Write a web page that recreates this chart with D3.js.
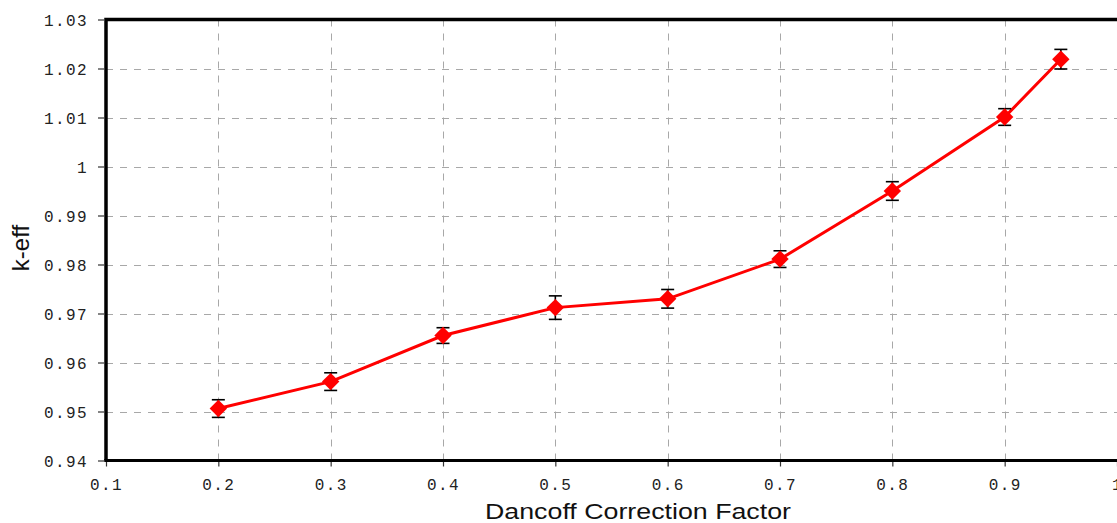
<!DOCTYPE html>
<html>
<head>
<meta charset="utf-8">
<script src="https://cdn.jsdelivr.net/npm/d3@7"></script>
<style>
  html, body { margin: 0; padding: 0; background: #fff; }
  svg { display: block; }
  .tick-label { font-family: "Liberation Mono", "DejaVu Sans Mono", monospace; font-size: 16px; fill: #222; letter-spacing: 1.4px; }
  .axis-title { font-family: "Liberation Sans", Arial, sans-serif; fill: #111; }
</style>
</head>
<body>
<svg id="chart" width="1117" height="523"></svg>
<script>
// Dancoff correction factor vs. k-eff, with statistical error bars
const dancoff = [0.2, 0.3, 0.4, 0.5, 0.6, 0.7, 0.8, 0.9, 0.95];
const keff    = [0.9506, 0.9561, 0.9655, 0.9712, 0.9730, 0.9811, 0.9950, 1.0101, 1.0219];
const keffErr = [0.0018, 0.0018, 0.0016, 0.0024, 0.0019, 0.0017, 0.0019, 0.0017, 0.0020];

const xTicks = [0.1, 0.2, 0.3, 0.4, 0.5, 0.6, 0.7, 0.8, 0.9, 1.0];
const xTickLabels = ["0.1", "0.2", "0.3", "0.4", "0.5", "0.6", "0.7", "0.8", "0.9", "1"];
const yTicks = [0.94, 0.95, 0.96, 0.97, 0.98, 0.99, 1.00, 1.01, 1.02, 1.03];
const yTickLabels = ["0.94", "0.95", "0.96", "0.97", "0.98", "0.99", "1", "1.01", "1.02", "1.03"];

const svg = d3.select("#chart");
const plotL = 106, plotR = 1117, plotT = 19.5, plotB = 460.5;

const x = d3.scaleLinear().domain([0.1, 1.0]).range([plotL, plotR]);
const y = d3.scaleLinear().domain([0.94, 1.03]).range([plotB, plotT]);

// grid
const grid = svg.append("g")
  .attr("stroke", "#a8a8a8").attr("stroke-width", 1).attr("stroke-dasharray", "7,7");
grid.selectAll("line.v").data(xTicks.slice(1, -1)).join("line")
  .attr("x1", d => Math.round(x(d)) + 0.5).attr("x2", d => Math.round(x(d)) + 0.5)
  .attr("y1", plotT).attr("y2", plotB);
grid.selectAll("line.h").data(yTicks.slice(1, -1)).join("line")
  .attr("x1", plotL).attr("x2", plotR)
  .attr("y1", d => Math.round(y(d)) + 0.5).attr("y2", d => Math.round(y(d)) + 0.5);

// axes via d3 axis generators (ticks + labels)
const xAxis = d3.axisBottom(x).tickValues(xTicks)
  .tickFormat((d, i) => xTickLabels[i]).tickSize(5).tickPadding(10);
const yAxis = d3.axisLeft(y).tickValues(yTicks)
  .tickFormat((d, i) => yTickLabels[i]).tickSize(6).tickPadding(10);

const gx = svg.append("g").attr("transform", `translate(0,${plotB + 1})`).call(xAxis);
const gy = svg.append("g").attr("transform", `translate(${plotL - 2},0)`).call(yAxis);
[gx, gy].forEach(g => {
  g.select(".domain").remove();
  g.selectAll(".tick line").attr("stroke", "#333").attr("stroke-width", 1.2);
  g.selectAll(".tick text").attr("class", "tick-label").attr("fill", null);
});
gx.selectAll(".tick text").attr("dy", "0.85em");
gy.selectAll(".tick text").attr("dy", "0.36em");

// frame
svg.append("path")
  .attr("d", `M${plotL},${plotB} L${plotL},${plotT} L${plotR},${plotT}`)
  .attr("fill", "none").attr("stroke", "#000").attr("stroke-width", 3.5);
svg.append("line")
  .attr("x1", plotL - 1.75).attr("x2", plotR).attr("y1", plotB).attr("y2", plotB)
  .attr("stroke", "#000").attr("stroke-width", 3);

const pts = dancoff.map((d, i) => ({ x: d, y: keff[i], e: keffErr[i] }));

// connecting line
svg.append("path").datum(pts)
  .attr("d", d3.line().x(d => x(d.x)).y(d => y(d.y)))
  .attr("fill", "none").attr("stroke", "#ff0000").attr("stroke-width", 3);

// error bars
const eb = svg.append("g").attr("stroke", "#000").attr("stroke-width", 1.6);
pts.forEach(p => {
  const cx = x(p.x), y1 = y(p.y + p.e), y2 = y(p.y - p.e);
  eb.append("line").attr("x1", cx).attr("x2", cx).attr("y1", y1).attr("y2", y2);
  eb.append("line").attr("x1", cx - 6.5).attr("x2", cx + 6.5).attr("y1", y1).attr("y2", y1);
  eb.append("line").attr("x1", cx - 6.5).attr("x2", cx + 6.5).attr("y1", y2).attr("y2", y2);
});

// diamond markers
const r = 8.7;
svg.append("g").selectAll("path").data(pts).join("path")
  .attr("d", `M0,${-r} L${r},0 L0,${r} L${-r},0 Z`)
  .attr("transform", d => `translate(${x(d.x)},${y(d.y)})`)
  .attr("fill", "#ff0000");

// axis titles
svg.append("text").attr("class", "axis-title")
  .attr("x", 638).attr("y", 519).attr("text-anchor", "middle")
  .attr("font-size", 22)
  .attr("textLength", 306).attr("lengthAdjust", "spacingAndGlyphs")
  .text("Dancoff Correction Factor");
svg.append("text").attr("class", "axis-title")
  .attr("transform", "translate(29,248) rotate(-90)")
  .attr("text-anchor", "middle").attr("font-size", 24)
  .text("k-eff");
</script>
</body>
</html>
